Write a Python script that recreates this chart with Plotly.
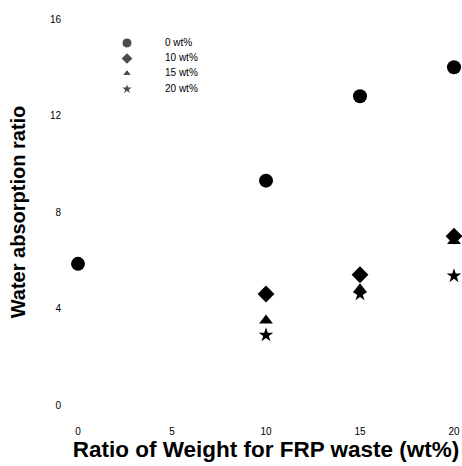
import plotly.graph_objects as go

series_names = ["0 wt%", "10 wt%", "15 wt%", "20 wt%"]
x_0 = [0, 10, 15, 20]
y_0 = [5.85, 9.3, 12.8, 14.0]
x_10 = [10, 15, 20]
y_10 = [4.6, 5.4, 7.0]
x_15 = [10, 15, 20]
y_15 = [3.5, 4.8, 6.8]
x_20 = [10, 15, 20]
y_20 = [2.9, 4.6, 5.35]

x_ticks = [0, 5, 10, 15, 20]
y_ticks = [0, 4, 8, 12, 16]

symbols = ["circle", "diamond", "triangle-up", "star"]
sizes = [14, 13, 12, 11]
legend_sizes = [10, 9, 8, 9]

fig = go.Figure()
draw_order = [(0, x_0, y_0), (2, x_15, y_15), (1, x_10, y_10), (3, x_20, y_20)]
for i, xs, ys in draw_order:
    fig.add_trace(go.Scatter(x=xs, y=ys, mode="markers", showlegend=False,
                             marker=dict(symbol=symbols[i], size=sizes[i], color="black"),
                             cliponaxis=False, name=series_names[i]))

# legend key drawn on a hidden overlay axis measured in pixels of the plot area
leg_rows = [24, 39.5, 54.5, 70]
leg_mark_x = 49
leg_text_x = 87
fig.add_trace(go.Scatter(x=[leg_mark_x] * 4, y=leg_rows, xaxis="x2", yaxis="y2", mode="markers",
                         showlegend=False, hoverinfo="skip", cliponaxis=False,
                         marker=dict(symbol=symbols, size=legend_sizes, color="black")))
fig.add_trace(go.Scatter(x=[leg_text_x] * 4, y=leg_rows, xaxis="x2", yaxis="y2", mode="text",
                         text=series_names, textposition="middle right", showlegend=False,
                         hoverinfo="skip", cliponaxis=False,
                         textfont=dict(size=10, color="black")))

fig.update_layout(
    width=462, height=466,
    margin=dict(l=78, r=8, t=19, b=61),
    paper_bgcolor="white", plot_bgcolor="white",
    font=dict(family="Liberation Sans, Arial", size=10, color="black"),
    showlegend=False,
    xaxis=dict(range=[0, 20], tickvals=x_ticks, showgrid=False, zeroline=False, showline=False,
               automargin=False,
               ticks="outside", ticklen=17, tickcolor="rgba(0,0,0,0)",
               title=dict(text="<b>Ratio of Weight for FRP waste (wt%)</b>", font=dict(size=22.5), standoff=0)),
    yaxis=dict(range=[0, 16], tickvals=y_ticks, showgrid=False, zeroline=False, showline=False,
               automargin=False,
               ticks="outside", ticklen=14, tickcolor="rgba(0,0,0,0)",
               title=dict(text="<b>Water absorption ratio</b>", font=dict(size=20), standoff=18)),
    xaxis2=dict(overlaying="x", range=[0, 376], visible=False),
    yaxis2=dict(overlaying="y", range=[386, 0], visible=False),
)

fig.write_html("out.html", config={"displayModeBar": False},
               post_script="document.body.style.margin='0';document.body.style.overflow='hidden';")
